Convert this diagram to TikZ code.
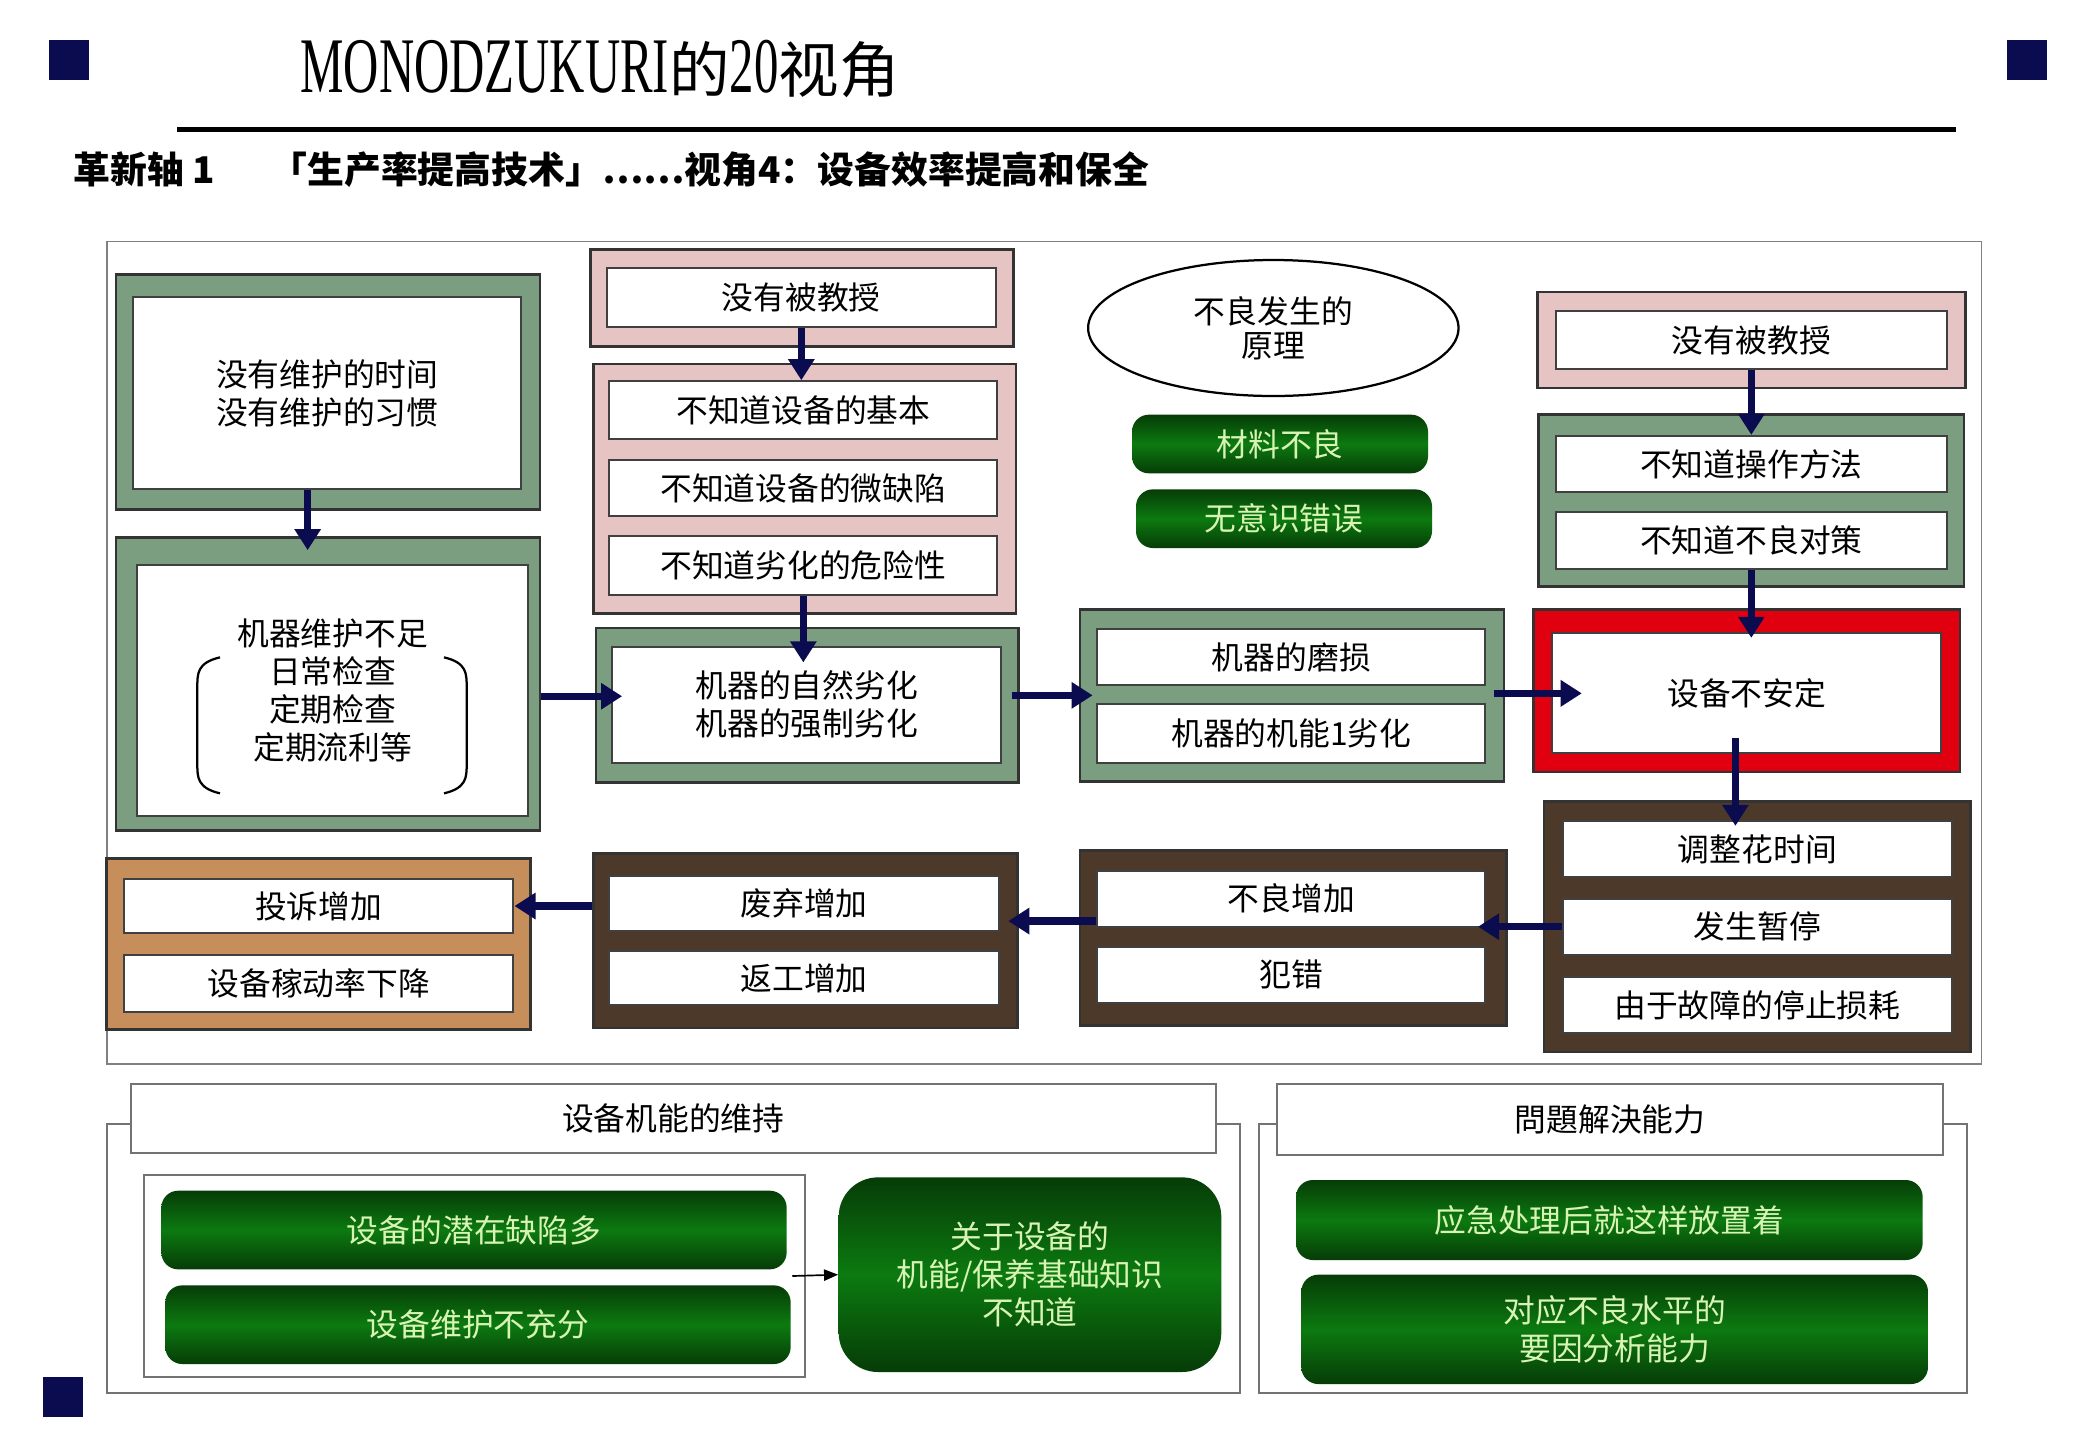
\documentclass[tikz,border=0pt]{standalone}
\usepackage{fontspec}
\setmainfont{Noto Sans CJK SC}
\newfontfamily\titlefont{Liberation Serif}
\usepackage{tikz}
\usetikzlibrary{arrows.meta, fit, shapes.geometric}
\definecolor{navy}{HTML}{0B0B4F}
\definecolor{sage}{HTML}{7C9E80}
\definecolor{rose}{HTML}{E6C4C4}
\definecolor{alarm}{HTML}{E1000F}
\definecolor{bark}{HTML}{4D392A}
\definecolor{wood}{HTML}{C68E5B}
\definecolor{leaf}{HTML}{0C7A10}
\definecolor{leafdark}{HTML}{063C07}
\definecolor{leaftext}{HTML}{D8F4B4}

\begin{document}
\begin{tikzpicture}[x=0.16667mm, y=-0.16667mm,
    every node/.style={font=\fontsize{11.3}{13.5}\selectfont, align=center, inner sep=0pt},
    outframe/.style={draw=black!80, line width=1pt},
    inbox/.style={draw=black!75, fill=white, line width=0.8pt},
    greenbar/.style={rounded corners=6pt, top color=leafdark, bottom color=leafdark, middle color=leaf},
    bartext/.style={text=leaftext},
    sidepanel/.style={draw=black!55, line width=0.7pt},
    arr/.style={draw=navy, line width=2.6pt, -{Triangle[width=9pt,length=7.5pt]}}]
    \fill[white] (0,0) rectangle (1560,1080);
    \useasboundingbox (0,0) rectangle (1560,1080);

    % heading
    \fill[navy] (37,30) rectangle (67,60);
    \fill[navy] (1505,30) rectangle (1535,60);
    \fill[navy] (32,1033) rectangle (62,1063);
    \node (title) at (450,52) {\scalebox{0.62}[1]{\fontsize{28}{30}\titlefont MONODZUKURI}{\fontsize{21.5}{24}\selectfont 的}\scalebox{0.62}[1]{\fontsize{28}{30}\titlefont 20}{\fontsize{21.5}{24}\selectfont 视角}};
    \draw[line width=1.6pt] (133,97) -- (1467,97);
    \node[anchor=west, font=\fontsize{13.1}{15}\selectfont\bfseries] (sub) at (55,127) {革新轴 1\hspace{1.5em}「生产率提高技术」……视角4：设备效率提高和保全};

    \node[draw=black!50, line width=0.6pt, fit={(80,181) (1486,798)}] (main) {};

    % left column
    \node[outframe, fill=sage, fit={(87,206) (405,382)}] (g1) {};
    \node[inbox, fit={(100,223) (391,367)}, label={center:{没有维护的时间\\没有维护的习惯}}] (w1) {};
    \node[outframe, fill=sage, fit={(87,403) (405,623)}] (g2) {};
    \node[inbox, fit={(103,424) (396,612)}, label={center:{机器维护不足\\日常检查\\定期检查\\定期流利等}}] (w2) {};
    \draw[line width=0.8pt] (165,493) .. controls (148,497) and (148,505) .. (148,515) -- (148,573) .. controls (148,583) and (148,591) .. (165,595);
    \draw[line width=0.8pt] (333,493) .. controls (350,497) and (350,505) .. (350,515) -- (350,573) .. controls (350,583) and (350,591) .. (333,595);

    % second column
    \node[outframe, fill=rose, fit={(443,187) (760,260)}] (pa) {};
    \node[inbox, fit={(455,201) (747,245)}, label={center:没有被教授}] (wa) {};
    \node[outframe, fill=rose, fit={(445,273) (762,460)}] (pb) {};
    \node[inbox, fit={(457,286) (748,329)}, label={center:不知道设备的基本}] (wb1) {};
    \node[inbox, fit={(457,345) (748,387)}, label={center:不知道设备的微缺陷}] (wb2) {};
    \node[inbox, fit={(457,402) (748,446)}, label={center:不知道劣化的危险性}] (wb3) {};
    \node[outframe, fill=sage, fit={(447,471) (764,587)}] (gc) {};
    \node[inbox, fit={(459,485) (751,572)}, label={center:{机器的自然劣化\\机器的强制劣化}}] (wc) {};

    % third column
    \node[draw, ellipse, line width=0.8pt, minimum width=4.63cm, minimum height=1.7cm, font=\fontsize{11.3}{12}\selectfont] (why) at (955,246) {不良发生的\\原理};
    \node[greenbar, fit={(849,311) (1071,355)}, label={[bartext]center:材料不良}] (mat) {};
    \node[greenbar, fit={(852,367) (1074,411)}, label={[bartext]center:无意识错误}] (err) {};
    \node[outframe, fill=sage, fit={(810,457) (1128,586)}] (gd) {};
    \node[inbox, fit={(823,472) (1114,514)}, label={center:机器的磨损}] (wd1) {};
    \node[inbox, fit={(823,528) (1114,572)}, label={center:机器的机能1劣化}] (wd2) {};

    % right column
    \node[outframe, fill=rose, fit={(1153,219) (1474,291)}] (pe) {};
    \node[inbox, fit={(1167,233) (1460,277)}, label={center:没有被教授}] (we) {};
    \node[outframe, fill=sage, fit={(1154,311) (1473,440)}] (gf) {};
    \node[inbox, fit={(1167,327) (1460,369)}, label={center:不知道操作方法}] (wf1) {};
    \node[inbox, fit={(1167,384) (1460,427)}, label={center:不知道不良对策}] (wf2) {};
    \node[outframe, fill=alarm, fit={(1150,457) (1470,579)}] (gg) {};
    \node[inbox, fit={(1164,475) (1456,565)}, label={center:设备不安定}] (wg) {};
    \node[outframe, fill=bark, fit={(1158,601) (1478,789)}] (gh) {};
    \node[inbox, fit={(1172,616) (1464,658)}, label={center:调整花时间}] (wh1) {};
    \node[inbox, fit={(1172,674) (1464,716)}, label={center:发生暂停}] (wh2) {};
    \node[inbox, fit={(1172,733) (1464,775)}, label={center:由于故障的停止损耗}] (wh3) {};

    % lower row
    \node[outframe, fill=bark, fit={(810,638) (1130,769)}] (gi) {};
    \node[inbox, fit={(823,653) (1114,695)}, label={center:不良增加}] (wi1) {};
    \node[inbox, fit={(823,710) (1114,752)}, label={center:犯错}] (wi2) {};
    \node[outframe, fill=bark, fit={(445,640) (763,771)}] (gj) {};
    \node[inbox, fit={(457,657) (749,698)}, label={center:废弃增加}] (wj1) {};
    \node[inbox, fit={(457,713) (749,754)}, label={center:返工增加}] (wj2) {};
    \node[outframe, fill=wood, fit={(80,644) (398,772)}] (gk) {};
    \node[inbox, fit={(93,659) (385,700)}, label={center:投诉增加}] (wk1) {};
    \node[inbox, fit={(93,716) (385,759)}, label={center:设备稼动率下降}] (wk2) {};

    % arrows
    \draw[arr] ([xshift=-7pt]w1.south) -- ([xshift=-7pt, yshift=5pt]w1.south |- w2.north);
    \draw[arr] (wa.south) -- (wa.south |- wb1.north);
    \draw[arr] (wb3.south) -- ([yshift=-6pt]wb3.south |- wc.north);
    \draw[arr] ([yshift=3pt]g2.east |- wc.west) -- ([xshift=4pt, yshift=3pt]wc.west);
    \draw[arr] ([xshift=-3pt]gc.east |- gd.west) -- ([xshift=5pt]gd.west);
    \draw[arr] ([xshift=-4pt]gd.east |- wg.west) -- ([xshift=11pt]wg.west);
    \draw[arr] (we.south) -- (we.south |- wf1.north);
    \draw[arr] (wf2.south) -- ([yshift=-2pt]wf2.south |- wg.north);
    \draw[arr] ([xshift=-4pt, yshift=6pt]wg.south) -- ([xshift=-4pt, yshift=-2pt]wg.south |- wh1.north);
    \draw[arr] (wh2.west) -- ([xshift=-3pt]wi1.east |- wh2.west);
    \draw[arr] ([yshift=2pt]wi1.west |- wh2.west) -- ([xshift=3pt, yshift=2pt]wj1.east |- wh2.west);
    \draw[arr] (gj.west |- wk1.east) -- (wk1.east);

    % bottom panels
    \node[sidepanel, fit={(80,843) (930,1045)}] (keep) {};
    \node[sidepanel, fill=white, fit={(98,813) (912,865)}, label={center:设备机能的维持}] (keeplbl) {};
    \node[sidepanel, fit={(108,881) (604,1033)}] (keepin) {};
    \node[greenbar, fit={(121,893) (590,952)}, label={[bartext]center:设备的潜在缺陷多}] (latent) {};
    \node[greenbar, fit={(124,964) (593,1023)}, label={[bartext]center:设备维护不充分}] (lack) {};
    \node[greenbar, rounded corners=14pt, fit={(629,883) (916,1029)}, label={[bartext]center:{关于设备的\\机能/保养基础知识\\不知道}}] (know) {};
    \draw[line width=0.6pt, -{Triangle[width=4pt,length=5pt]}] ([xshift=-5pt]keepin.east) -- (know.west);

    \node[sidepanel, fit={(944,843) (1475,1045)}] (solve) {};
    \node[sidepanel, fill=white, fit={(958,813) (1457,866)}, label={center:問題解決能力}] (solvelbl) {};
    \node[greenbar, fit={(972,885) (1442,945)}, label={[bartext]center:应急处理后就这样放置着}] (leave) {};
    \node[greenbar, fit={(976,956) (1446,1038)}, label={[bartext]center:{对应不良水平的\\要因分析能力}}] (cause) {};
\end{tikzpicture}
\end{document}
